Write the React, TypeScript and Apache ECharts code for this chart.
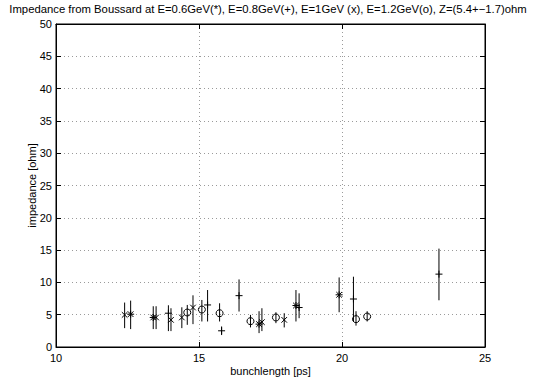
import React, { useEffect, useRef } from "react";
import * as echarts from "echarts";

// E = 0.6 GeV (*)
const bunch06 = [12.61, 13.4, 17.1, 18.39, 19.9];
const imp06 = [5.08, 4.57, 3.54, 6.42, 8.08];
const lo06 = [2.77, 2.77, 2.15, 3.95, 5.38];
const hi06 = [7.18, 6.31, 5.54, 8.82, 10.77];

// E = 0.8 GeV (+)
const bunch08 = [13.93, 15.3, 15.79, 16.4, 18.5, 20.4, 23.39];
const imp08 = [5.23, 6.51, 2.51, 7.95, 6.11, 7.43, 11.28];
const lo08 = [2.46, 3.95, 1.85, 5.49, 4.46, 4.0, 7.23];
const hi08 = [6.46, 8.82, 3.18, 10.46, 8.31, 10.88, 15.23];

// E = 1 GeV (x)
const bunch10 = [12.4, 13.5, 14.02, 14.4, 14.79, 17.2, 17.98];
const imp10 = [4.97, 4.57, 4.2, 4.57, 6.11, 3.85, 4.2];
const lo10 = [2.92, 2.77, 2.46, 2.92, 3.54, 2.46, 3.03];
const hi10 = [6.88, 6.31, 6.0, 6.15, 8.0, 6.0, 5.23];

// E = 1.2 GeV (o)
const bunch12 = [14.59, 15.1, 15.72, 16.8, 17.69, 20.49, 20.88];
const imp12 = [5.34, 5.8, 5.23, 4.0, 4.57, 4.31, 4.72];
const lo12 = [3.43, 3.95, 3.95, 3.03, 3.69, 3.31, 3.95];
const hi12 = [6.51, 7.28, 6.77, 4.97, 5.38, 5.54, 5.54];

const xTicks = [10, 15, 20, 25];
const yTicks = [0, 5, 10, 15, 20, 25, 30, 35, 40, 45, 50];

const titleText =
  "Impedance from Boussard at E=0.6GeV(*), E=0.8GeV(+), E=1GeV (x), E=1.2GeV(o), Z=(5.4+\u22121.7)ohm";

const FONT = "Liberation Sans, Arial, Helvetica, sans-serif";

function build(xs: number[], ys: number[], lo: number[], hi: number[]) {
  return xs.map((x, i) => [x, ys[i], lo[i], hi[i]]);
}

function makeSeries(name: string, kind: string, data: number[][]) {
  return {
    type: "custom",
    name,
    data,
    encode: { x: 0, y: 1 },
    clip: true,
    renderItem: (params: any, api: any) => {
      const x = api.value(0);
      const y = api.value(1);
      const p = api.coord([x, y]);
      const pl = api.coord([x, api.value(2)]);
      const ph = api.coord([x, api.value(3)]);
      const st = { stroke: "#000", lineWidth: 1, fill: null };
      const children: any[] = [
        { type: "line", shape: { x1: pl[0], y1: pl[1], x2: ph[0], y2: ph[1] }, style: st },
      ];
      const s = 3.5;
      const d = 2.8;
      if (kind === "+" || kind === "*") {
        children.push({ type: "line", shape: { x1: p[0] - s, y1: p[1], x2: p[0] + s, y2: p[1] }, style: st });
        children.push({ type: "line", shape: { x1: p[0], y1: p[1] - s, x2: p[0], y2: p[1] + s }, style: st });
      }
      if (kind === "x" || kind === "*") {
        children.push({ type: "line", shape: { x1: p[0] - d, y1: p[1] - d, x2: p[0] + d, y2: p[1] + d }, style: st });
        children.push({ type: "line", shape: { x1: p[0] - d, y1: p[1] + d, x2: p[0] + d, y2: p[1] - d }, style: st });
      }
      if (kind === "o") {
        children.push({ type: "circle", shape: { cx: p[0], cy: p[1], r: 3.5 }, style: { stroke: "#000", lineWidth: 1, fill: "none" } });
      }
      return { type: "group", children };
    },
  };
}

export default function App() {
  const ref = useRef<HTMLDivElement>(null);
  useEffect(() => {
    if (!ref.current) return;
    const chart = echarts.init(ref.current, undefined, { renderer: "svg" });
    const axisCommon = {
      axisLine: { show: true, onZero: false, lineStyle: { color: "#000", width: 1 } },
      axisTick: { show: true, inside: true, length: 5, lineStyle: { color: "#000" } },
    };
    chart.setOption({
      animation: false,
      backgroundColor: "#fff",
      title: {
        text: titleText,
        left: 268,
        textAlign: "center",
        top: 3,
        padding: 0,
        textStyle: { fontFamily: FONT, fontSize: 11.3, fontWeight: "normal", color: "#000" },
      },
      grid: { left: 56, top: 24, right: 49, bottom: 32, show: true, borderColor: "#000", borderWidth: 1, backgroundColor: "transparent" },
      xAxis: [
        {
          type: "value",
          min: xTicks[0],
          max: xTicks[xTicks.length - 1],
          interval: 5,
          position: "bottom",
          name: "bunchlength [ps]",
          nameLocation: "middle",
          nameGap: 18,
          nameMoveOverlap: false,
          nameTextStyle: { fontFamily: FONT, fontSize: 11, color: "#000" },
          ...axisCommon,
          axisLabel: { fontFamily: FONT, fontSize: 11, color: "#000", margin: 5 },
          splitLine: { show: true, lineStyle: { color: "#9a9a9a", type: [1, 3], width: 1 } },
        },
        {
          type: "value",
          min: xTicks[0],
          max: xTicks[xTicks.length - 1],
          interval: 5,
          position: "top",
          ...axisCommon,
          axisLabel: { show: false },
          splitLine: { show: false },
        },
      ],
      yAxis: [
        {
          type: "value",
          min: yTicks[0],
          max: yTicks[yTicks.length - 1],
          interval: 5,
          position: "left",
          name: "impedance [ohm]",
          nameLocation: "middle",
          nameGap: 19,
          nameMoveOverlap: false,
          nameTextStyle: { fontFamily: FONT, fontSize: 11, color: "#000" },
          ...axisCommon,
          axisLabel: { fontFamily: FONT, fontSize: 11, color: "#000", margin: 4 },
          splitLine: { show: true, lineStyle: { color: "#9a9a9a", type: [1, 3], width: 1 } },
        },
        {
          type: "value",
          min: yTicks[0],
          max: yTicks[yTicks.length - 1],
          interval: 5,
          position: "right",
          ...axisCommon,
          axisLabel: { show: false },
          splitLine: { show: false },
        },
      ],
      series: [
        makeSeries("E=0.6GeV", "*", build(bunch06, imp06, lo06, hi06)),
        makeSeries("E=0.8GeV", "+", build(bunch08, imp08, lo08, hi08)),
        makeSeries("E=1GeV", "x", build(bunch10, imp10, lo10, hi10)),
        makeSeries("E=1.2GeV", "o", build(bunch12, imp12, lo12, hi12)),
      ],
    });
    return () => chart.dispose();
  }, []);
  return (
    <div
      ref={ref}
      style={{ position: "fixed", left: 0, top: 0, width: 534, height: 381, background: "#fff" }}
    />
  );
}
